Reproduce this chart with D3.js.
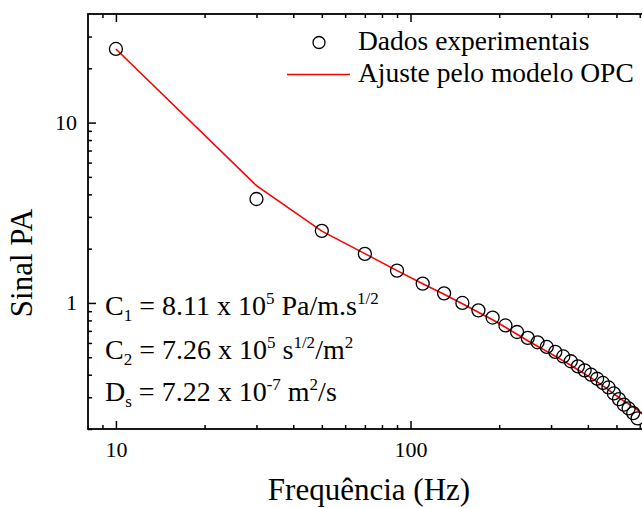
<!DOCTYPE html>
<html>
<head>
<meta charset="utf-8">
<script src="https://cdn.jsdelivr.net/npm/d3@7"></script>
<style>
  html, body { margin: 0; padding: 0; background: #fff; }
  svg { display: block; }
  text { font-family: "Liberation Serif", "Times New Roman", serif; fill: #000; }
</style>
</head>
<body>
<script>
// ---- data ----
const freqs = [10, 30, 50, 70, 90, 110, 130, 150, 170, 190, 210, 230, 250, 270, 290,
               310, 330, 350, 370, 390, 410, 430, 450, 470, 490, 510, 530, 550, 570, 590];
const signal = [25.6, 3.77, 2.51, 1.87, 1.51, 1.28, 1.13, 1.00, 0.91, 0.83, 0.75, 0.69, 0.64, 0.605, 0.57,
                0.535, 0.505, 0.475, 0.445, 0.423, 0.40, 0.38, 0.36, 0.34, 0.315, 0.293, 0.273, 0.26, 0.245, 0.229];
const fitFreqs = [10, 30, 50, 70, 90, 110, 130, 150, 170, 190, 210, 230, 250, 270, 290,
                  310, 330, 350, 370, 390, 410, 430, 450, 470, 490, 510, 530, 550, 570, 590, 610];
const fitValues = [25.6, 4.47, 2.50, 1.877, 1.51, 1.278, 1.118, 0.99, 0.888, 0.807, 0.733, 0.670, 0.617, 0.575, 0.539,
                   0.506, 0.477, 0.451, 0.426, 0.404, 0.384, 0.365, 0.347, 0.330, 0.313, 0.299, 0.286, 0.275, 0.265, 0.255, 0.245];
const xMajorTicks = [10, 100];
const xMinorTicks = [9, 20, 30, 40, 50, 60, 70, 80, 90, 200, 300, 400, 500, 600, 700];
const yMajorTicks = [1, 10];
const yMinorTicks = [0.2, 0.3, 0.4, 0.5, 0.6, 0.7, 0.8, 0.9, 2, 3, 4, 5, 6, 7, 8, 9, 20, 30];
const legendLabels = ["Dados experimentais", "Ajuste pelo modelo OPC"];
const xTitle = "Frequência (Hz)";
const yTitle = "Sinal PA";

// ---- layout ----
const W = 642, H = 508;
const mLeft = 88, mTop = 14, mBottom = 429;
const decadeX = 294.6;
const xDomain = [8.04, 700];
const mRight = mLeft + decadeX * Math.log10(xDomain[1] / xDomain[0]);

const svg = d3.select("body").append("svg").attr("width", W).attr("height", H);

const x = d3.scaleLog().domain(xDomain).range([mLeft, mRight]);
const y = d3.scaleLog().domain([0.2, 40]).range([mBottom, mTop]);

const fs = 22;
function styleAxis(g) {
  g.select(".domain").remove();
  g.selectAll("line").attr("stroke", "#000").attr("stroke-width", 1.5);
  g.selectAll("text").attr("font-size", fs).attr("font-family", "Liberation Serif, serif").attr("fill", "#000");
}

// bottom axis
svg.append("g").attr("transform", `translate(0,${mBottom})`)
  .call(d3.axisBottom(x).tickValues(xMajorTicks).tickSize(-8).tickPadding(12).tickFormat(d3.format("d")))
  .call(styleAxis);
svg.append("g").attr("transform", `translate(0,${mBottom})`)
  .call(d3.axisBottom(x).tickValues(xMinorTicks).tickSize(-4).tickFormat(""))
  .call(styleAxis);
// top axis (mirror)
svg.append("g").attr("transform", `translate(0,${mTop})`)
  .call(d3.axisTop(x).tickValues(xMajorTicks).tickSize(-8).tickFormat(""))
  .call(styleAxis);
svg.append("g").attr("transform", `translate(0,${mTop})`)
  .call(d3.axisTop(x).tickValues(xMinorTicks).tickSize(-4).tickFormat(""))
  .call(styleAxis);
// left axis
svg.append("g").attr("transform", `translate(${mLeft},0)`)
  .call(d3.axisLeft(y).tickValues(yMajorTicks).tickSize(-8).tickPadding(11).tickFormat(d3.format("d")))
  .call(styleAxis);
svg.append("g").attr("transform", `translate(${mLeft},0)`)
  .call(d3.axisLeft(y).tickValues(yMinorTicks).tickSize(-4).tickFormat(""))
  .call(styleAxis);

// frame
svg.append("rect").attr("x", mLeft).attr("y", mTop).attr("width", mRight - mLeft).attr("height", mBottom - mTop)
  .attr("fill", "none").attr("stroke", "#000").attr("stroke-width", 1.8);

// fit line
const fitData = fitFreqs.map((f, i) => [f, fitValues[i]]);
svg.append("path").datum(fitData)
  .attr("fill", "none").attr("stroke", "#ff0000").attr("stroke-width", 1.6)
  .attr("d", d3.line().x(d => x(d[0])).y(d => y(d[1])));

// data circles
svg.append("g").selectAll("circle").data(freqs.map((f, i) => [f, signal[i]])).join("circle")
  .attr("cx", d => x(d[0])).attr("cy", d => y(d[1])).attr("r", 6.5)
  .attr("fill", "none").attr("stroke", "#000").attr("stroke-width", 1.3);

// legend
svg.append("circle").attr("cx", 319).attr("cy", 42.5).attr("r", 6)
  .attr("fill", "none").attr("stroke", "#000").attr("stroke-width", 1.3);
svg.append("text").attr("x", 358).attr("y", 50).attr("font-size", 27.5).text(legendLabels[0]);
svg.append("line").attr("x1", 287).attr("x2", 350).attr("y1", 74.5).attr("y2", 74.5)
  .attr("stroke", "#ff0000").attr("stroke-width", 1.6);
svg.append("text").attr("x", 358).attr("y", 82).attr("font-size", 27.5).text(legendLabels[1]);

// annotations (sub/superscripts with baseline shifts applied to each tspan)
function annot(yy, parts) {
  const t = svg.append("text").attr("x", 105).attr("y", yy).attr("font-size", 28);
  let cur = 0;
  parts.forEach(p => {
    let target = 0, txt = p.t, size = null;
    if (p.sub) { target = 6; txt = p.sub; size = 17; }
    else if (p.sup) { target = -11; txt = p.sup; size = 17; }
    const ts = t.append("tspan").attr("dy", target - cur).text(txt);
    if (size) ts.attr("font-size", size);
    cur = target;
  });
}
annot(315, [{t: "C"}, {sub: "1"}, {t: "\u00a0= 8.11 x 10"}, {sup: "5"}, {t: "\u00a0Pa/m.s"}, {sup: "1/2"}]);
annot(359, [{t: "C"}, {sub: "2"}, {t: "\u00a0= 7.26 x 10"}, {sup: "5"}, {t: "\u00a0s"}, {sup: "1/2"}, {t: "/m"}, {sup: "2"}]);
annot(401, [{t: "D"}, {sub: "s"}, {t: "\u00a0= 7.22 x 10"}, {sup: "-7"}, {t: "\u00a0m"}, {sup: "2"}, {t: "/s"}]);

// axis titles
svg.append("text").attr("x", 369).attr("y", 500).attr("text-anchor", "middle")
  .attr("font-size", 31).text(xTitle);
svg.append("text").attr("transform", "translate(32,263) rotate(-90)").attr("text-anchor", "middle")
  .attr("font-size", 31).text(yTitle);
</script>
</body>
</html>
